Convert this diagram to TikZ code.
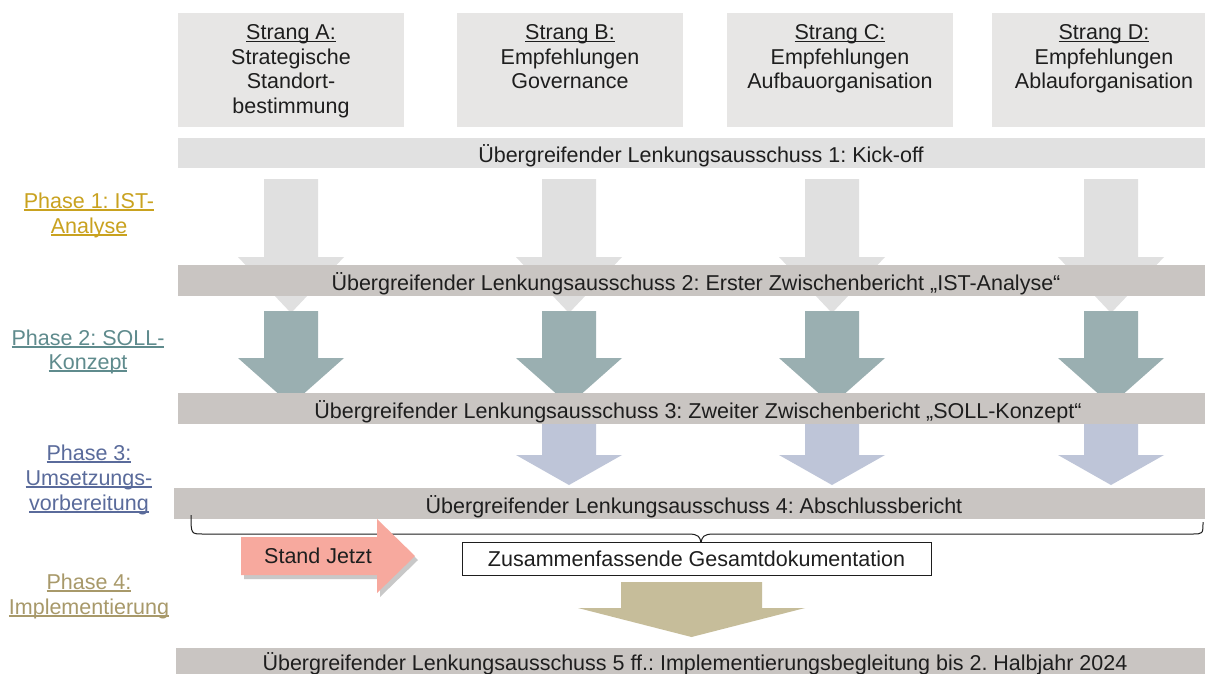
\documentclass[tikz,border=0pt]{standalone}
\usepackage{fontspec}
\setmainfont{Liberation Sans}
\usetikzlibrary{shadows}
\frenchspacing
\definecolor{txt}{HTML}{1E1E1E}
\definecolor{boxgray}{HTML}{E7E6E5}
\definecolor{lightbar}{HTML}{E1E1E1}
\definecolor{arrowgray}{HTML}{E0E0E0}
\definecolor{bargray}{HTML}{C9C5C2}
\definecolor{tealarrow}{HTML}{9AAFB1}
\definecolor{lavarrow}{HTML}{BEC5D8}
\definecolor{khakiarrow}{HTML}{C6BD9A}
\definecolor{salmon}{HTML}{F7A99E}
\definecolor{ph1}{HTML}{C9A21F}
\definecolor{ph2}{HTML}{5F8B8D}
\definecolor{ph3}{HTML}{5A6B9B}
\definecolor{ph4}{HTML}{A8996A}
\newcommand\myul[1]{\setbox0\hbox{#1}\rlap{\rule[-2.6pt]{\wd0}{1.3pt}}\box0}
% #1 colour, #2 centre x, #3 top y, #4 head y, #5 tip y, #6 shaft half width, #7 head half width
\newcommand\blockdown[7]{\fill[#1] (#2-#6,#3) -- (#2+#6,#3) -- (#2+#6,#4) -- (#2+#7,#4) -- (#2,#5) -- (#2-#7,#4) -- (#2-#6,#4) -- cycle;}
\begin{document}
\begin{tikzpicture}[x=1pt,y=-1pt,
  every node/.style={font=\fontsize{21.5}{24.5}\selectfont, text=txt, inner sep=0pt, outer sep=0pt},
  strangbox/.style={fill=boxgray, minimum height=114, anchor=north west},
  stext/.style={align=center, anchor=north},
  barbox/.style={fill=bargray, anchor=north west},
  bartext/.style={anchor=base},
  phaselab/.style={anchor=base}]
\useasboundingbox (0,0) rectangle (1205,673);
\fill[white] (0,0) rectangle (1205,673);

% Strang boxes
\node[strangbox, minimum width=226] (bA) at (178,13) {};
\node[strangbox, minimum width=226] (bB) at (457,13) {};
\node[strangbox, minimum width=226] (bC) at (727,13) {};
\node[strangbox, minimum width=224] (bD) at (992,13) {};
\node[stext] (tA) at (291,24.5) {\myul{Strang A:}\\Strategische\\Standort-\\bestimmung};
\node[stext] (tB) at (570,24.5) {\myul{Strang B:}\\Empfehlungen\\Governance};
\node[stext] (tC) at (840,24.5) {\myul{Strang C:}\\Empfehlungen\\Aufbauorganisation};
\node[stext] (tD) at (1104,24.5) {\myul{Strang D:}\\Empfehlungen\\Ablauforganisation};

% Bar 1
\node[barbox, fill=lightbar, minimum width=1034, minimum height=30] (bar1) at (178,138) {};
\node[bartext] (l1) at (701,162) {Übergreifender Lenkungsausschuss 1: Kick-off};

% Phase 1 arrows
\blockdown{arrowgray}{291}{179}{257}{313}{27}{53}
\blockdown{arrowgray}{569}{179}{257}{313}{27}{53}
\blockdown{arrowgray}{832}{179}{257}{313}{27}{53}
\blockdown{arrowgray}{1111}{179}{257}{313}{27}{53}

% Bar 2
\node[barbox, minimum width=1034, minimum height=31] (bar2) at (178,265) {};
\node[bartext] (l2) at (696,290) {Übergreifender Lenkungsausschuss 2: Erster Zwischenbericht „IST-Analyse“};

% Phase 2 arrows
\blockdown{tealarrow}{291}{311}{358}{405}{27}{53}
\blockdown{tealarrow}{569}{311}{358}{405}{27}{53}
\blockdown{tealarrow}{832}{311}{358}{405}{27}{53}
\blockdown{tealarrow}{1111}{311}{358}{405}{27}{53}

% Bar 3
\node[barbox, minimum width=1034, minimum height=31] (bar3) at (178,393) {};
\node[bartext] (l3) at (698,418) {Übergreifender Lenkungsausschuss 3: Zweiter Zwischenbericht „SOLL-Konzept“};

% Phase 3 arrows
\blockdown{lavarrow}{569}{424}{455}{485}{27}{53}
\blockdown{lavarrow}{832}{424}{455}{485}{27}{53}
\blockdown{lavarrow}{1111}{424}{455}{485}{27}{53}

% Bar 4
\node[barbox, minimum width=1040, minimum height=31] (bar4) at (174,488) {};
\node[bartext] (l4) at (694,513) {Übergreifender Lenkungsausschuss 4: Abschlussbericht};

% Brace
\coordinate (brL) at (191,515);
\coordinate (brM) at (701,543);
\coordinate (brR) at (1203,522);
\draw[line width=1pt, txt] (brL) .. controls (191,534) and (191,534) .. (203,534) -- (688,534)
  .. controls (699,534) and (700,537) .. (brM)
  .. controls (702,537) and (703,534) .. (714,534) -- (1192,534)
  .. controls (1203,534) and (1203,534) .. (brR);

% Stand Jetzt arrow
\fill[salmon, drop shadow={shadow xshift=3pt, shadow yshift=-4pt, opacity=0.3, fill=black!70}]
  (241,537) -- (377,537) -- (377,519) -- (415,556) -- (377,593) -- (377,575) -- (241,575) -- cycle;
\node[anchor=base] (stand) at (318,563) {Stand Jetzt};

% Gesamtdokumentation
\node[draw=txt, line width=1pt, fill=white, minimum width=469, minimum height=33] (doku) at (696.5,558.5) {};
\node[anchor=base] (dokut) at (696.5,566) {Zusammenfassende Gesamtdokumentation};

% Phase 4 arrow
\blockdown{khakiarrow}{691.5}{582}{608}{637}{70.5}{113.5}

% Bar 5
\node[barbox, minimum width=1036, minimum height=30] (bar5) at (176,648) {};
\node[bartext] (l5) at (695,670) {Übergreifender Lenkungsausschuss 5 ff.: Implementierungsbegleitung bis 2. Halbjahr 2024};

% Phase labels
\node[phaselab, text=ph1] (p1a) at (89,208) {\myul{Phase 1: IST-}};
\node[phaselab, text=ph1] (p1b) at (89,233) {\myul{Analyse}};
\node[phaselab, text=ph2] (p2a) at (88,345) {\myul{Phase 2: SOLL-}};
\node[phaselab, text=ph2] (p2b) at (88,369) {\myul{Konzept}};
\node[phaselab, text=ph3] (p3a) at (89,460) {\myul{Phase 3:}};
\node[phaselab, text=ph3] (p3b) at (89,485) {\myul{Umsetzungs-}};
\node[phaselab, text=ph3] (p3c) at (89,510) {\myul{vorbereitung}};
\node[phaselab, text=ph4] (p4a) at (89,589) {\myul{Phase 4:}};
\node[phaselab, text=ph4] (p4b) at (89,614) {\myul{Implementierung}};
\end{tikzpicture}
\end{document}
